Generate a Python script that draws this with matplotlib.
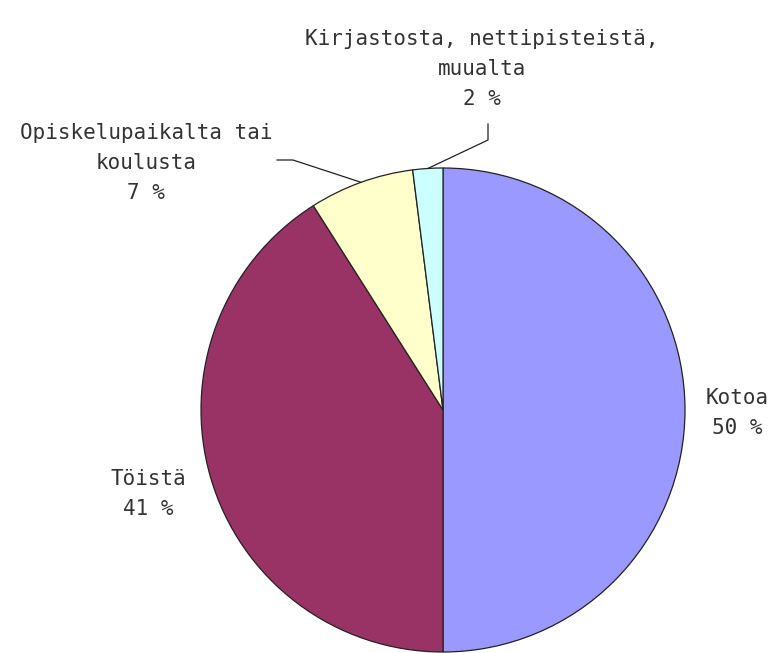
import numpy as np
import matplotlib.pyplot as plt

# --- data ---
labels = ["Kotoa", "Töistä", "Opiskelupaikalta tai\nkoulusta", "Kirjastosta, nettipisteistä,\nmuualta"]
values = [50, 41, 7, 2]
colors = ["#9999FF", "#993366", "#FFFFCC", "#CCFFFF"]

W, H = 780, 653
fig = plt.figure(figsize=(W / 100, H / 100), dpi=100)
ax = fig.add_axes([0, 0, 1, 1])

# pie centre/radius in pixel coords (y up)
cx, cy, r = 443, H - 410, 242
wedges, _ = ax.pie(values, colors=colors, startangle=90, counterclock=False,
                   center=(cx, cy), radius=r, frame=True,
                   wedgeprops=dict(edgecolor="#222222", linewidth=0.9))
ax.set_xlim(0, W)
ax.set_ylim(0, H)
ax.set_aspect("equal")
ax.axis("off")

fs = 15
tc = "#333333"
font = "DejaVu Sans Mono"
texts = [f"{l}\n{v} %" for l, v in zip(labels, values)]
kw = dict(ha="center", va="center", fontsize=fs, color=tc, linespacing=1.6, family=font)

# label positions (pixel, y down)
ax.text(737, H - 413, texts[0], **kw)
ax.text(148, H - 494, texts[1], **kw)
ax.text(146, H - 163, texts[2], **kw)
ax.text(482, H - 69, texts[3], **kw)

# leader lines, starting on the wedge edge
def edge_point(w):
    a = np.radians((w.theta1 + w.theta2) / 2)
    return cx + r * np.cos(a), cy + r * np.sin(a)

x2, y2 = edge_point(wedges[2])
ax.plot([277, 293, x2], [H - 160, H - 160, y2], color="#222222", lw=0.9)
x3, y3 = edge_point(wedges[3])
ax.plot([488, 488, x3], [H - 124, H - 140, y3], color="#222222", lw=0.9)

fig.savefig("out.png", dpi=100, facecolor="white")
